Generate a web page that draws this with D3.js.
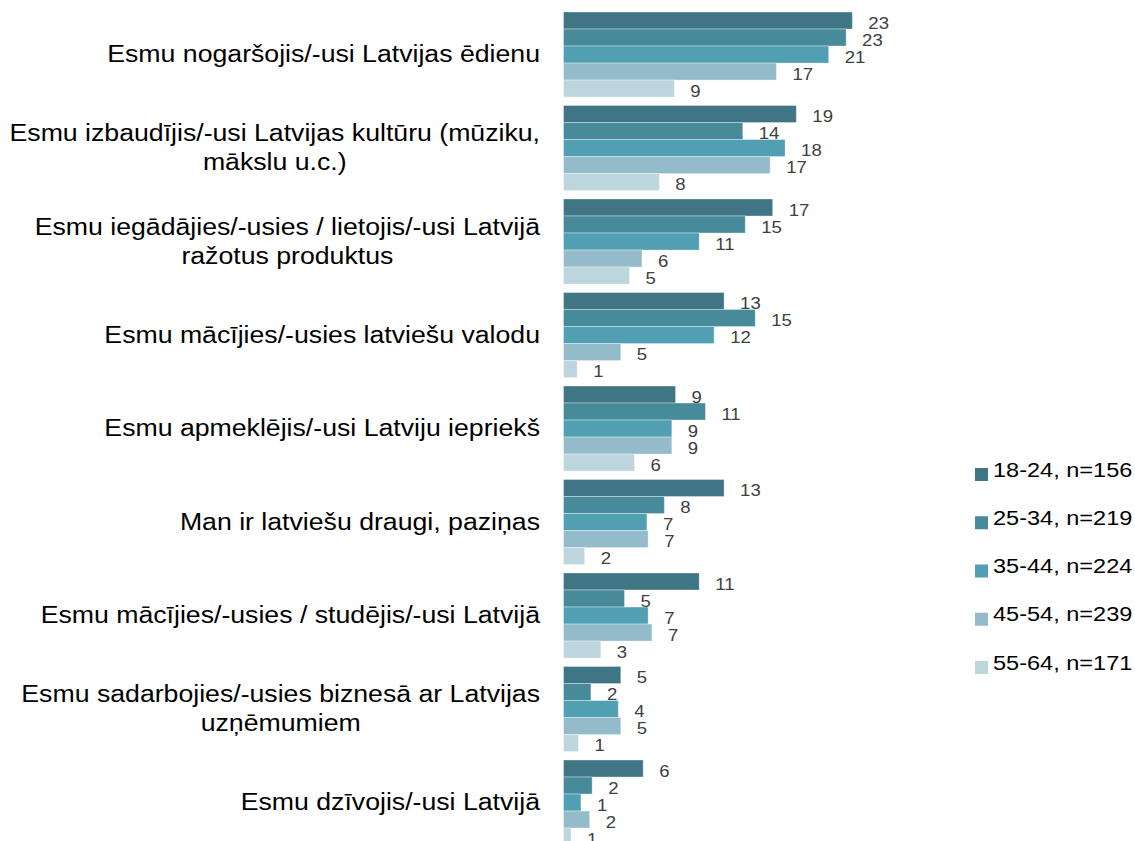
<!DOCTYPE html>
<html>
<head>
<meta charset="utf-8">
<script src="https://cdn.jsdelivr.net/npm/d3@7"></script>
<style>
  body { margin: 0; background: #fff; }
  text { font-family: "Liberation Sans", Arial, sans-serif; }
</style>
</head>
<body>
<svg class="chart" width="1135" height="841"></svg>
<script>
var categories = [
  'Esmu nogaršojis/-usi Latvijas ēdienu',
  'Esmu izbaudījis/-usi Latvijas kultūru (mūziku,\nmākslu u.c.)',
  'Esmu iegādājies/-usies / lietojis/-usi Latvijā\nražotus produktus',
  'Esmu mācījies/-usies latviešu valodu',
  'Esmu apmeklējis/-usi Latviju iepriekš',
  'Man ir latviešu draugi, paziņas',
  'Esmu mācījies/-usies / studējis/-usi Latvijā',
  'Esmu sadarbojies/-usies biznesā ar Latvijas\nuzņēmumiem',
  'Esmu dzīvojis/-usi Latvijā'
];

var seriesNames = ['18-24, n=156', '25-34, n=219', '35-44, n=224', '45-54, n=239', '55-64, n=171'];

// percentages, labels show the rounded value
var age1824 = [23.2, 18.7, 16.8, 12.9, 9.0, 12.9, 10.9, 4.6, 6.4];
var age2534 = [22.7, 14.4, 14.6, 15.4, 11.4, 8.1, 4.9, 2.2, 2.3];
var age3544 = [21.3, 17.8, 10.9, 12.1, 8.7, 6.7, 6.8, 4.4, 1.4];
var age4554 = [17.1, 16.6, 6.3, 4.6, 8.7, 6.8, 7.1, 4.6, 2.1];
var age5564 = [8.9, 7.7, 5.3, 1.1, 5.7, 1.7, 3.0, 1.2, 0.6];

var colors = ['#3f7584', '#478a9a', '#509fb2', '#94bbc9', '#bdd5dd'];

var series = [age1824, age2534, age3544, age4554, age5564];

var stretch = 1.16;

var svg = d3.select('.chart');

var xScale = d3.scaleLinear()
  .domain([0, 24])
  .range([563.5, 862.3]);

var yScale = d3.scaleBand()
  .domain(categories)
  .range([12, 12 + 93.5 * (categories.length - 0.09)])
  .paddingInner(0.09)
  .paddingOuter(0);

var inner = d3.scaleBand()
  .domain(d3.range(seriesNames.length))
  .range([0, yScale.bandwidth()]);

var groups = svg.selectAll('g.group')
  .data(categories)
  .join('g')
  .classed('group', true)
  .attr('transform', function (d) { return 'translate(0,' + yScale(d) + ')'; });

function rows(d, i) {
  return series.map(function (s, k) { return { k: k, v: s[i] }; });
}

groups.selectAll('rect')
  .data(rows)
  .join('rect')
  .attr('x', xScale(0))
  .attr('y', function (d) { return inner(d.k); })
  .attr('width', function (d) { return xScale(d.v) - xScale(0); })
  .attr('height', inner.bandwidth())
  .attr('fill', function (d) { return colors[d.k]; })
  .attr('stroke', '#ffffff')
  .attr('stroke-opacity', 0.35)
  .attr('stroke-width', 1);

groups.selectAll('text.val')
  .data(rows)
  .join('text')
  .classed('val', true)
  .attr('transform', function (d) {
    return 'translate(' + (xScale(d.v) + 16) + ',' + (inner(d.k) + inner.bandwidth() - 0.5) + ') scale(' + stretch + ',1)';
  })
  .attr('font-size', '16px')
  .attr('fill', '#404040')
  .text(function (d) { return Math.round(d.v); });

// category labels, lines centred inside a right aligned block
groups.each(function (d) {
  var lines = d.split('\n');
  var mid = yScale.bandwidth() / 2;
  var lh = 29;
  var g = d3.select(this).append('g')
    .attr('transform', 'translate(540,0) scale(' + stretch + ',1)');
  var texts = g.selectAll('text')
    .data(lines)
    .join('text')
    .attr('font-size', '23px')
    .attr('fill', '#000')
    .attr('text-anchor', 'middle')
    .attr('y', function (l, j) { return mid + 7.5 + (j - (lines.length - 1) / 2) * lh; })
    .text(function (l) { return l; });
  var maxW = d3.max(texts.nodes(), function (n) { return n.getComputedTextLength(); });
  texts.attr('x', -maxW / 2);
});

// legend
var legend = svg.selectAll('g.legend')
  .data(seriesNames)
  .join('g')
  .classed('legend', true)
  .attr('transform', function (d, i) { return 'translate(975,' + (476.5 + i * 48.25) + ')'; });

legend.append('rect')
  .attr('x', 0)
  .attr('y', -8.5)
  .attr('width', 13)
  .attr('height', 13)
  .attr('fill', function (d, i) { return colors[i]; });

legend.append('text')
  .attr('transform', 'translate(18,0) scale(' + stretch + ',1)')
  .attr('font-size', '20.3px')
  .attr('fill', '#000')
  .text(function (d) { return d; });
</script>
</body>
</html>
